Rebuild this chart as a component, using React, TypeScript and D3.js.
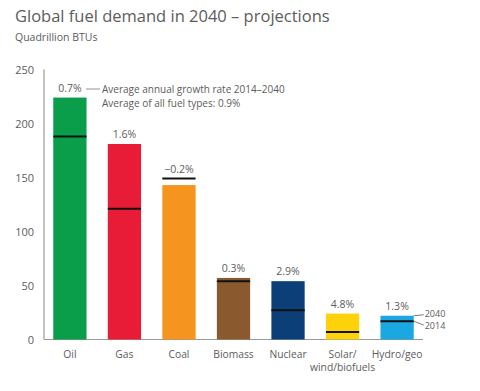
import * as d3 from 'd3';

const fuels = ['Oil', 'Gas', 'Coal', 'Biomass', 'Nuclear', 'Solar/wind/biofuels', 'Hydro/geo'];
const demand2040 = [224, 181, 143, 57, 54, 24, 22];
const demand2014 = [188, 121, 149, 54, 27, 7, 17];
const growthRates = ['0.7%', '1.6%', '−0.2%', '0.3%', '2.9%', '4.8%', '1.3%'];
const fuelColors = ['#0a9e4b', '#e81c37', '#f5951f', '#8a5a2e', '#0c3f78', '#fdd20a', '#1ba8e2'];
const yTicks = [0, 50, 100, 150, 200, 250];

const W = 480, H = 391;
const text = '#5c5c5c';
const font = "'Open Sans', 'Noto Sans', sans-serif";

export default function App() {
  const x = d3.scaleBand<string>().domain(fuels).range([44, 423]).paddingInner(0.39).paddingOuter(0.17);
  const y = d3.scaleLinear().domain([0, 250]).range([339.5, 69.5]);
  const bw = x.bandwidth();
  const last = fuels.length - 1;
  const lx = (x(fuels[last]) ?? 0) + bw;
  const y40 = y(demand2040[last]);
  const y14 = y(demand2014[last]);

  return (
    <svg width={W} height={H} style={{ position: 'absolute', left: 0, top: 0, background: '#fff' }} fontFamily={font}>
      {/* title */}
      <text x={15} y={22} fontSize={16.5} fill={text}>Global fuel demand in 2040 – projections</text>
      <text x={15} y={41} fontSize={10.5} fill={text}>Quadrillion BTUs</text>

      {/* y axis */}
      {yTicks.map(t => (
        <text key={t} x={34} y={y(t) + 4} textAnchor="end" fontSize={11} fill={text}>{t}</text>
      ))}
      <line x1={44} x2={44} y1={y(250)} y2={y(0)} stroke="#999" strokeWidth={1.2} />
      <line x1={44} x2={423} y1={y(0)} y2={y(0)} stroke="#999" strokeWidth={1.2} />

      {/* bars */}
      {fuels.map((f, i) => {
        const bx = x(f) ?? 0;
        return (
          <g key={f}>
            <rect x={bx} y={y(demand2040[i])} width={bw} height={y(0) - y(demand2040[i])} fill={fuelColors[i]} />
            <line x1={bx} x2={bx + bw} y1={y(demand2014[i])} y2={y(demand2014[i])} stroke="#111" strokeWidth={2} />
            <text x={bx + bw / 2} y={y(Math.max(demand2040[i], demand2014[i])) - 6} textAnchor="middle" fontSize={10.5} fill={text}>{growthRates[i]}</text>
          </g>
        );
      })}

      {/* x labels */}
      {fuels.map(f => {
        const cx = (x(f) ?? 0) + bw / 2;
        const parts = f === 'Solar/wind/biofuels' ? ['Solar/', 'wind/biofuels'] : [f];
        return parts.map((p, j) => (
          <text key={f + j} x={cx} y={358 + j * 12.5} textAnchor="middle" fontSize={10.3} fill={text}>{p}</text>
        ));
      })}

      {/* annotation */}
      <line x1={86} x2={100} y1={89} y2={89} stroke="#777" strokeWidth={0.8} />
      <text x={102} y={93} fontSize={10} fill={text}>Average annual growth rate 2014–2040</text>
      <text x={102} y={107} fontSize={10} fill={text}>Average of all fuel types: 0.9%</text>

      {/* legend */}
      <line x1={lx} x2={lx + 10} y1={y40} y2={y40 - 1} stroke="#555" strokeWidth={0.8} />
      <line x1={lx} x2={lx + 10} y1={y14} y2={y14 + 4} stroke="#555" strokeWidth={0.8} />
      <text x={lx + 11} y={y40 + 1.5} fontSize={9} fill={text}>2040</text>
      <text x={lx + 11} y={y40 + 13.5} fontSize={9} fill={text}>2014</text>
    </svg>
  );
}
